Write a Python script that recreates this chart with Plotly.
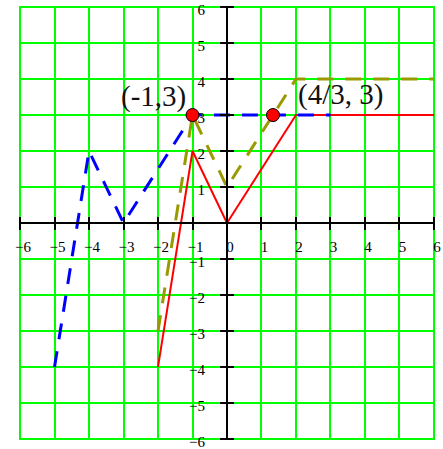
import plotly.graph_objects as go

# ── Data ───────────────────────────────────────────────────────────────────────
red_x   = [-2, -1, 0, 2, 6]
red_y   = [-4, 2, 0, 3, 3]
green_x = [-2, -1, 0, 2, 6]
green_y = [-3, 3, 1, 4, 4]
blue_x  = [-5, -4, -3, -1, 3]
blue_y  = [-4, 2, 0, 3, 3]

dot_x      = [-1, 4 / 3]
dot_y      = [3, 3]
dot_labels = ['(-1,3)', '(4/3, 3)']
label_x    = [-2.12, 3.29]
label_y    = [3.52, 3.57]

x_ticks = [-6, -5, -4, -3, -2, -1, 0, 1, 2, 3, 4, 5, 6]
y_ticks = [-6, -5, -4, -3, -2, -1, 1, 2, 3, 4, 5, 6]

# ── Style ──────────────────────────────────────────────────────────────────────
GRID  = '#00ff00'
RED   = '#ff0000'
OLIVE = '#999900'
BLUE  = '#0000ff'
FONT  = 'Liberation Serif, Times New Roman, serif'
RANGE = [-6.03, 6.03]   # a hair past ±6 so the outer grid lines show

fig = go.Figure()
fig.add_trace(go.Scatter(x=red_x, y=red_y, mode='lines',
                         line=dict(color=RED, width=2)))
fig.add_trace(go.Scatter(x=green_x, y=green_y, mode='lines',
                         line=dict(color=OLIVE, width=3, dash='16px,12px')))
fig.add_trace(go.Scatter(x=blue_x, y=blue_y, mode='lines',
                         line=dict(color=BLUE, width=3, dash='16px,12px')))
fig.add_trace(go.Scatter(x=dot_x, y=dot_y, mode='markers',
                         marker=dict(color=RED, size=13,
                                     line=dict(color='black', width=1))))
# empty trace so the overlay axes (opposite-side tick marks) get drawn
fig.add_trace(go.Scatter(x=[None], y=[None], xaxis='x2', yaxis='y2',
                         mode='markers', hoverinfo='skip'))

for tx, ty, txt in zip(label_x, label_y, dot_labels):
    fig.add_annotation(x=tx, y=ty, text=txt, showarrow=False,
                       font=dict(family=FONT, size=29, color='#111111'))

axis_common = dict(
    range=RANGE, showgrid=True, gridcolor=GRID, gridwidth=2,
    zeroline=False, showline=True, linecolor='black', linewidth=2,
    anchor='free', position=0.5, ticks='outside', ticklen=6,
    tickcolor='black', tickwidth=2, ticklabeloverflow='allow',
    tickfont=dict(family=FONT, size=15, color='black'),
)
overlay_common = dict(
    range=RANGE, anchor='free', position=0.5, ticks='inside', ticklen=6,
    tickwidth=2, tickcolor='black', showticklabels=False, showgrid=False,
    zeroline=False, showline=False,
)

fig.update_layout(
    template='none',
    width=443, height=449,
    margin=dict(l=19, r=8, t=6, b=9),
    paper_bgcolor='white', plot_bgcolor='white',
    showlegend=False,
    xaxis=dict(**axis_common, tickvals=x_ticks, ticklabelshift=3,
               ticklabelstandoff=4),
    yaxis=dict(**axis_common, tickvals=y_ticks, ticklabelshift=3,
               ticklabelstandoff=12),
    xaxis2=dict(**overlay_common, overlaying='x', tickvals=x_ticks),
    yaxis2=dict(**overlay_common, overlaying='y', tickvals=y_ticks),
)

fig.write_html('out.html', config={'displayModeBar': False},
               post_script="document.body.style.margin='0';")
